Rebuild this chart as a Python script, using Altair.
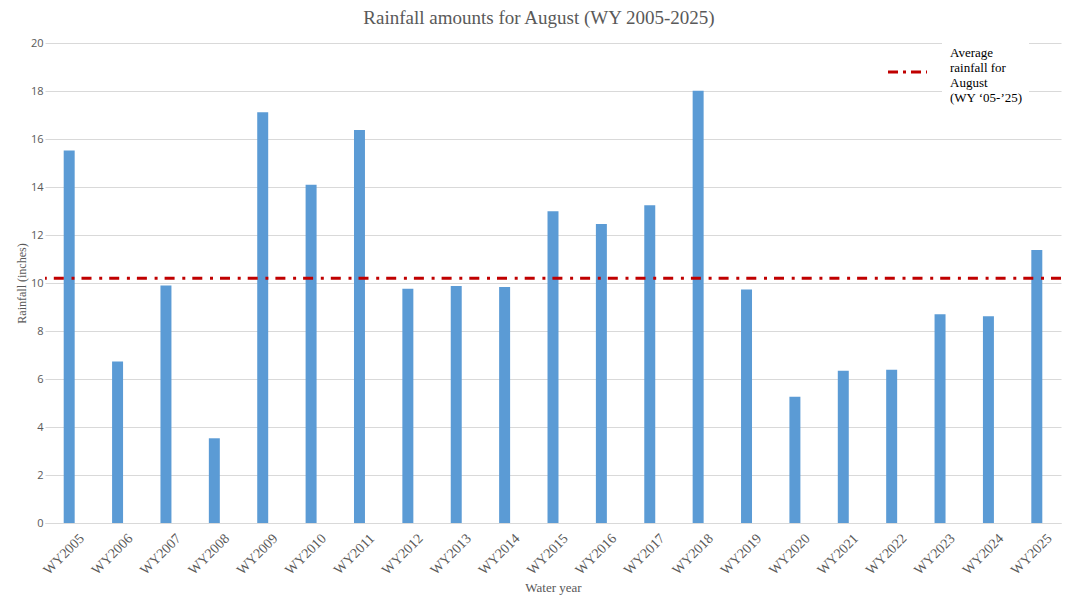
import altair as alt
import pandas as pd

years = ["WY2005", "WY2006", "WY2007", "WY2008", "WY2009", "WY2010", "WY2011",
         "WY2012", "WY2013", "WY2014", "WY2015", "WY2016", "WY2017", "WY2018",
         "WY2019", "WY2020", "WY2021", "WY2022", "WY2023", "WY2024", "WY2025"]
rainfall = [15.52, 6.73, 9.90, 3.53, 17.11, 14.09, 16.38,
            9.76, 9.88, 9.83, 12.99, 12.46, 13.24, 18.01,
            9.73, 5.26, 6.34, 6.39, 8.70, 8.61, 11.38]
average_value = [10.2]
average_label = ["Average|rainfall for|August|(WY \u201805-\u201925)"]
y_ticks = [0, 2, 4, 6, 8, 10, 12, 14, 16, 18, 20]

bars_df = pd.DataFrame({"year": years, "rain": rainfall})
avg_df = pd.DataFrame({"avg": average_value, "label": average_label})

SERIF = "Liberation Serif"
GRAY = "#595959"
RED = "#C00000"
DASH = [10, 7, 3, 7.7]

bars = alt.Chart(bars_df).mark_bar(color="#5B9BD5").encode(
    x=alt.X("year:N", sort=years,
            scale=alt.Scale(paddingInner=0.773, paddingOuter=0.3865),
            axis=alt.Axis(title="Water year", labelAngle=-45, labelAlign="right",
                          labelBaseline="top", labelPadding=8, labelOffset=8,
                          labelFont=SERIF, labelFontSize=14, labelColor=GRAY,
                          domainColor="#D9D9D9", domainWidth=1, ticks=False,
                          titleFont=SERIF, titleFontSize=13, titleColor=GRAY,
                          titleFontWeight="normal", titleY=64, titleBaseline="middle")),
    y=alt.Y("rain:Q",
            scale=alt.Scale(domain=[0, 20], nice=False),
            axis=alt.Axis(title="Rainfall (inches)", values=y_ticks,
                          labelFont="Open Sans", labelFontSize=11, labelColor=GRAY,
                          labelPadding=2, ticks=False, domain=False,
                          gridColor="#D9D9D9", gridWidth=1,
                          titleFont=SERIF, titleFontSize=12, titleColor=GRAY,
                          titleFontWeight="normal", titleX=-24, titleY=240,
                          titleAngle=-90, titleAlign="center", titleBaseline="middle")),
)

avg = alt.Chart(avg_df).mark_rule(strokeWidth=3, strokeDash=DASH,
                                  strokeCap="butt", color=RED).encode(
    y=alt.Y("avg:Q"),
)

# legend (drawn by hand so the symbol sits beside the middle of the wrapped label)
legend_bg = alt.Chart(avg_df).mark_rect(color="white").encode(
    x=alt.value(897), x2=alt.value(984), y=alt.value(-3), y2=alt.value(60))
legend_sym = alt.Chart(avg_df).mark_rule(strokeWidth=3, strokeDash=[10, 5, 3, 5],
                                         strokeCap="butt", color=RED).encode(
    x=alt.value(843), x2=alt.value(882), y=alt.value(29))
legend_txt = alt.Chart(avg_df).mark_text(
    lineBreak="|", align="left", baseline="middle", lineHeight=15,
    font=SERIF, fontSize=13, color="#000000").encode(
    text="label:N", x=alt.value(905), y=alt.value(10))

chart = alt.layer(bars, avg, legend_bg, legend_sym, legend_txt).properties(
    width=1016, height=480,
    padding={"left": 45, "top": 43, "right": 19, "bottom": 85},
    autosize="none",
    background="white",
    title=alt.TitleParams("Rainfall amounts for August (WY 2005-2025)",
                          anchor="middle", font=SERIF, fontSize=19,
                          fontWeight="normal", color=GRAY, offset=9, dx=-14),
).configure_view(stroke=None)

chart.save("out.html", embed_options={"renderer": "svg", "actions": False})
